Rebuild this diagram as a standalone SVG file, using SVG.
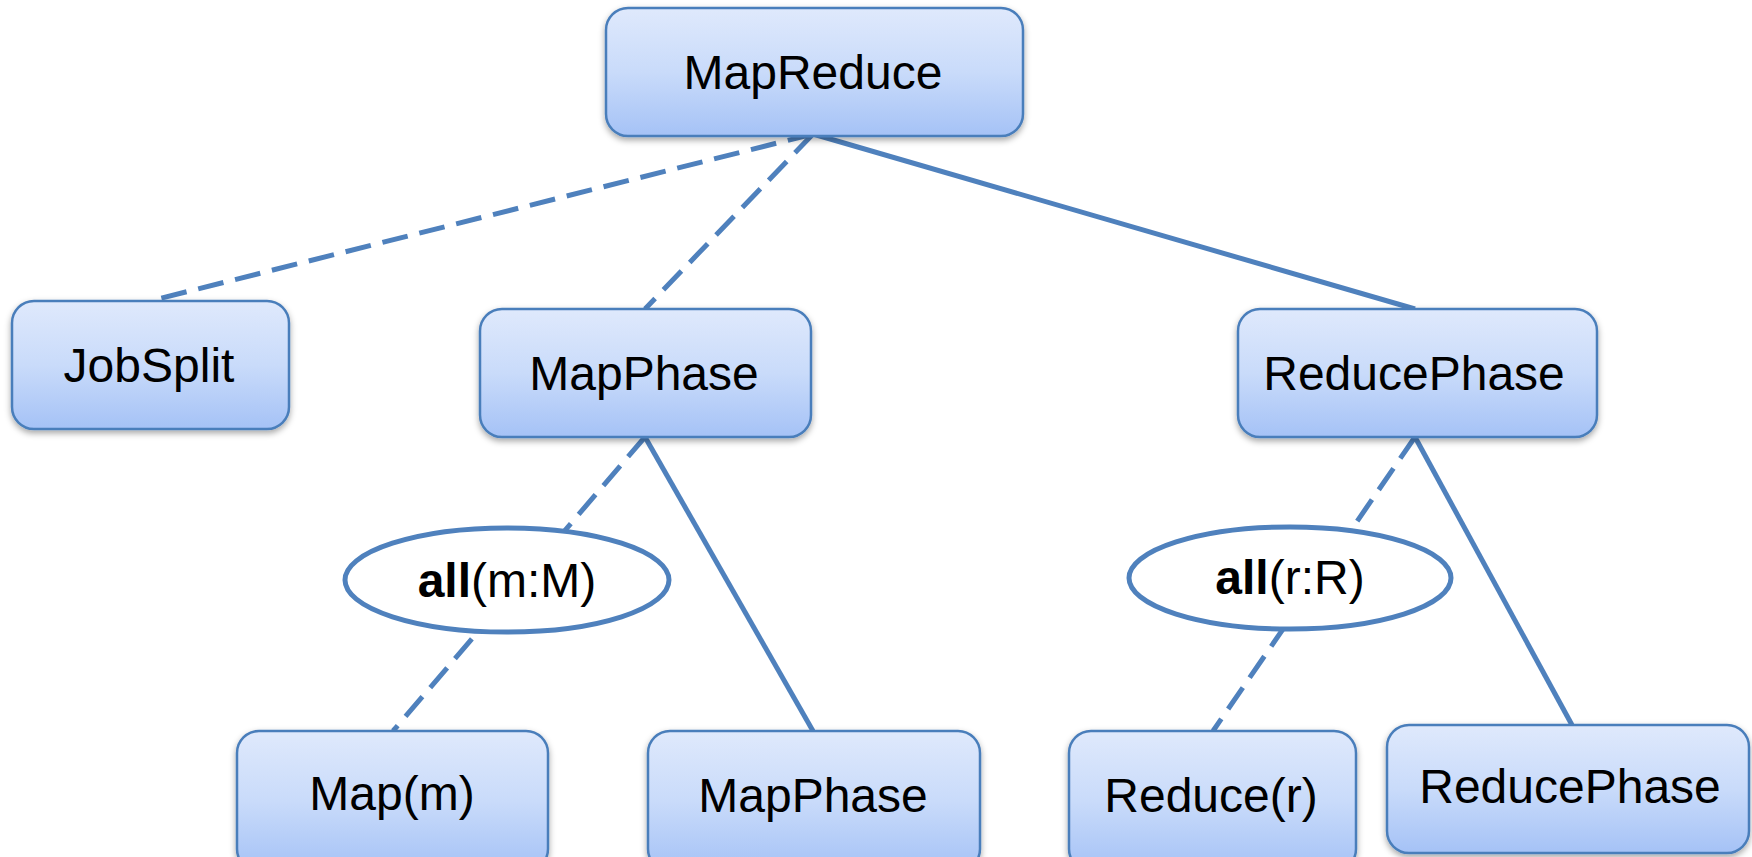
<svg xmlns="http://www.w3.org/2000/svg" width="1752" height="857" viewBox="0 0 1752 857">
<style>
.box{fill:url(#g);stroke:#4a7ebb;stroke-width:2.5;filter:url(#sh)}
.lbl{font-family:"Liberation Sans",Arial,sans-serif;font-size:48px;fill:#000;text-anchor:middle}
.el{fill:#fff;stroke:#4f81bd;stroke-width:5}
.elt{font-family:"Liberation Sans",Arial,sans-serif;font-size:48px;fill:#000;text-anchor:middle}
.b{font-weight:bold}
.c{stroke:#4f81bd;stroke-width:5;fill:none}
.d{stroke-dasharray:26 12}
</style>
<defs>
<linearGradient id="g" x1="0" y1="0" x2="0" y2="1">
<stop offset="0" stop-color="#dfe9fc"/>
<stop offset="0.5" stop-color="#c9dbfa"/>
<stop offset="1" stop-color="#a5c2f6"/>
</linearGradient>
<filter id="sh" x="-10%" y="-10%" width="120%" height="130%">
<feDropShadow dx="0" dy="3" stdDeviation="3" flood-color="#000" flood-opacity="0.35"/>
</filter>
</defs>
<rect width="1752" height="857" fill="#fff"/>
<g id="connectors">
<line class="c d" x1="813" y1="134" x2="150" y2="301"/>
<line class="c d" x1="813" y1="134" x2="645" y2="309"/>
<line class="c" x1="813" y1="134" x2="1415" y2="309"/>
<line class="c d" x1="645" y1="437" x2="393" y2="731"/>
<line class="c" x1="645" y1="437" x2="813" y2="731"/>
<line class="c d" x1="1415" y1="437" x2="1213" y2="731"/>
<line class="c" x1="1415" y1="437" x2="1572" y2="725"/>
</g>
<g id="mapreduce">
<rect class="box" x="606" y="8" width="417" height="128" rx="22"/>
<text class="lbl" x="813" y="89">MapReduce</text>
</g>
<g id="jobsplit">
<rect class="box" x="12" y="301" width="277" height="128" rx="22"/>
<text class="lbl" x="149" y="382">JobSplit</text>
</g>
<g id="mapphase">
<rect class="box" x="480" y="309" width="331" height="128" rx="22"/>
<text class="lbl" x="644" y="390">MapPhase</text>
</g>
<g id="reducephase">
<rect class="box" x="1238" y="309" width="359" height="128" rx="22"/>
<text class="lbl" x="1414" y="390">ReducePhase</text>
</g>
<g id="all-m">
<ellipse class="el" cx="507" cy="580" rx="162" ry="52"/>
<text class="elt" x="507" y="597"><tspan class="b">all</tspan>(m:M)</text>
</g>
<g id="all-r">
<ellipse class="el" cx="1290" cy="578" rx="161" ry="51"/>
<text class="elt" x="1290" y="594"><tspan class="b">all</tspan>(r:R)</text>
</g>
<g id="map-m">
<rect class="box" x="237" y="731" width="311" height="140" rx="22"/>
<text class="lbl" x="392" y="810">Map(m)</text>
</g>
<g id="mapphase2">
<rect class="box" x="648" y="731" width="332" height="140" rx="22"/>
<text class="lbl" x="813" y="812">MapPhase</text>
</g>
<g id="reduce-r">
<rect class="box" x="1069" y="731" width="287" height="140" rx="22"/>
<text class="lbl" x="1211" y="812">Reduce(r)</text>
</g>
<g id="reducephase2">
<rect class="box" x="1387" y="725" width="362" height="128" rx="22"/>
<text class="lbl" x="1570" y="803">ReducePhase</text>
</g>
</svg>
